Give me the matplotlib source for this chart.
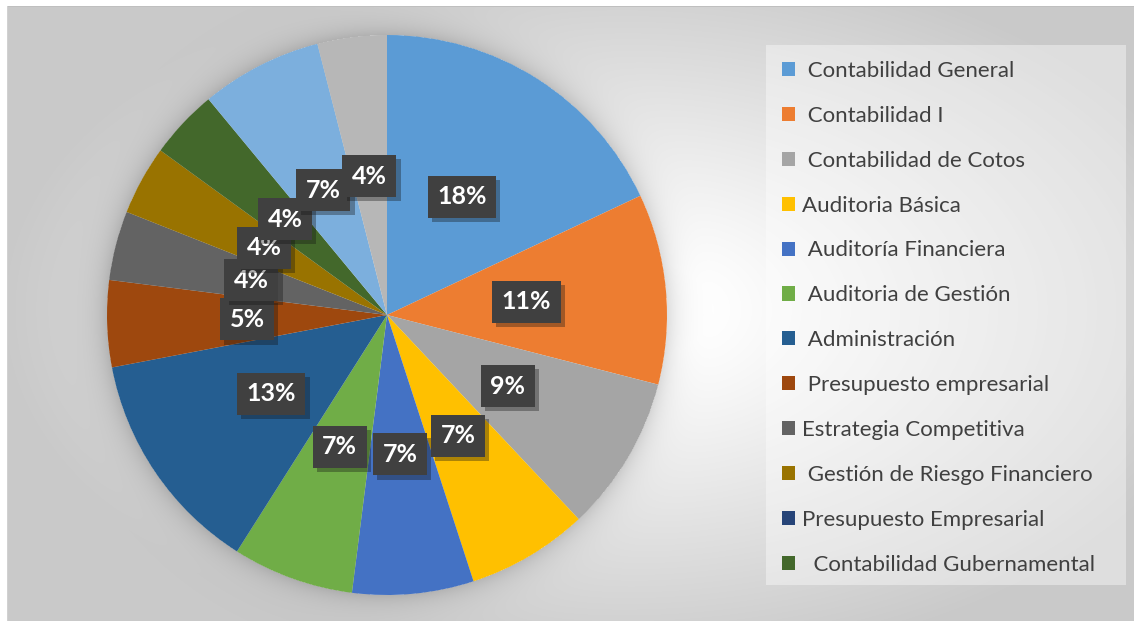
import matplotlib
matplotlib.use('Agg')
import matplotlib.pyplot as plt
import matplotlib.patheffects as pe
from matplotlib.patches import Rectangle
import numpy as np

plt.rcParams["font.family"] = ["Lato", "DejaVu Sans"]

# data (percent of total, clockwise from 12 o'clock)
categories = [' Contabilidad General', ' Contabilidad I', ' Contabilidad de Cotos',
              'Auditoria Básica', ' Auditoría Financiera', ' Auditoria de Gestión',
              ' Administración', ' Presupuesto empresarial', 'Estrategia Competitiva',
              ' Gestión de Riesgo Financiero', 'Presupuesto Empresarial',
              '  Contabilidad Gubernamental', 'Sin nombre 1', 'Sin nombre 2']
values = [18, 11, 9, 7, 7, 7, 13, 5, 4, 4, 0, 4, 7, 4]
colors = ['#5B9BD5', '#ED7D31', '#A5A5A5', '#FFC000', '#4472C4', '#70AD47',
          '#255E91', '#9E480E', '#636363', '#997300', '#264478', '#43682B',
          '#7CAFDD', '#B7B7B7']
n_legend = 12

W, H = 1134, 621
fig = plt.figure(figsize=(W / 100, H / 100), dpi=100)

# background: radial gradient + soft halo around the pie
cx, cy, R = 387, 315, 280
yy, xx = np.mgrid[0:H, 0:W] + 0.5
t = np.sqrt(((xx - 620) / 620) ** 2 + ((yy - 310) / 360) ** 2)
bg = 1 - 0.21 * np.clip((t - 0.15) / 0.85, 0, 1)
d = np.sqrt((xx - cx) ** 2 + (yy - cy) ** 2)
halo = np.where(d > R, 0.13 * np.exp(-(d - R) / 13.0), 0)
bg = bg - halo
bg[:6, :] = 1.0
bg[:, :7] = 1.0
bg[6, 7:] = 0.75
bg[6:, 7] = 0.82
bax = fig.add_axes([0, 0, 1, 1])
bax.imshow(np.dstack([bg, bg, bg]), extent=(0, W, H, 0), aspect='auto',
           interpolation='bilinear')
bax.add_patch(Rectangle((766, 45), 1126 - 766, 585 - 45, facecolor='white',
                        alpha=0.4, edgecolor='none'))
bax.set_xlim(0, W)
bax.set_ylim(H, 0)
bax.axis('off')

# pie
ax = fig.add_axes([(cx - R) / W, (H - cy - R) / H, 2 * R / W, 2 * R / H])
wedges, _ = ax.pie(values, colors=colors, startangle=90, counterclock=False,
                   radius=1, wedgeprops=dict(linewidth=0))
ax.set_xlim(-1, 1)
ax.set_ylim(-1, 1)

for w, v in zip(wedges, values):
    if v == 0:
        continue
    ang = np.deg2rad((w.theta1 + w.theta2) / 2)
    x, y = 0.5 * np.cos(ang), 0.5 * np.sin(ang)
    txt = ax.text(x, y, '%d%%' % v, ha='center', va='center', fontsize=18,
                  fontweight='bold', color='white',
                  bbox=dict(boxstyle='square,pad=0.38', facecolor='#404040',
                            edgecolor='none'))
    txt.get_bbox_patch().set_path_effects(
        [pe.SimplePatchShadow(offset=(3, -3), alpha=0.35), pe.Normal()])

leg = ax.legend(wedges[:n_legend], categories[:n_legend], loc='upper left',
                bbox_to_anchor=(773 / W, 1 - 52 / H), bbox_transform=fig.transFigure,
                frameon=False, fontsize=16, handlelength=0.6, handleheight=0.6,
                handletextpad=0.3, labelspacing=1.12, borderaxespad=0)
for t_ in leg.get_texts():
    t_.set_color('#404040')

plt.savefig('out.png', dpi=100)
